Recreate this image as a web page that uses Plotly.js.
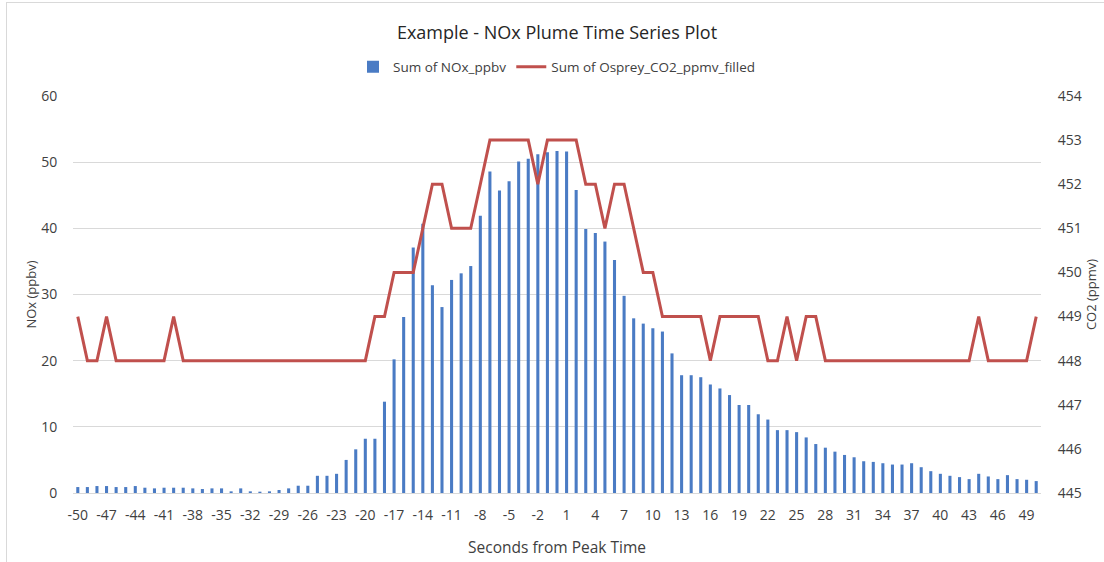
<!DOCTYPE html>
<html>
<head>
<meta charset="utf-8">
<script src="https://cdn.plot.ly/plotly-3.0.1.min.js"></script>
<style>
  html, body { margin: 0; padding: 0; background: #ffffff; }
  #wrap { position: relative; width: 1104px; height: 562px; overflow: hidden; }
  #frame { position: absolute; left: 6px; top: 2px; width: 1200px; height: 700px; border: 1px solid #d9d9d9; }
  #chart { position: absolute; left: 0; top: 0; width: 1104px; height: 562px; }
</style>
</head>
<body>
<div id="wrap"><div id="frame"></div><div id="chart"></div></div>
<script>
const seconds = [-50,-49,-48,-47,-46,-45,-44,-43,-42,-41,-40,-39,-38,-37,-36,-35,-34,-33,-32,-31,-30,-29,-28,-27,-26,-25,-24,-23,-22,-21,-20,-19,-18,-17,-16,-15,-14,-13,-12,-11,-10,-9,-8,-7,-6,-5,-4,-3,-2,-1,0,1,2,3,4,5,6,7,8,9,10,11,12,13,14,15,16,17,18,19,20,21,22,23,24,25,26,27,28,29,30,31,32,33,34,35,36,37,38,39,40,41,42,43,44,45,46,47,48,49,50];

const noxPpbv = [0.9,0.9,1.05,1.05,0.9,0.9,1.05,0.8,0.7,0.8,0.8,0.8,0.7,0.6,0.7,0.7,0.25,0.7,0.25,0.2,0.25,0.45,0.7,1.1,1.1,2.6,2.6,2.9,5.0,6.6,8.2,8.2,13.8,20.2,26.6,37.1,40.7,31.4,28.1,32.2,33.2,34.3,41.9,48.6,45.7,47.1,50.1,50.5,51.2,51.5,51.7,51.6,45.8,39.9,39.3,38.0,35.2,29.8,26.4,25.6,24.9,24.4,21.1,17.8,17.8,17.5,16.4,15.8,14.8,13.3,13.3,11.9,11.1,9.5,9.5,9.2,8.4,7.4,6.85,6.25,5.75,5.4,4.8,4.7,4.5,4.3,4.3,4.5,3.9,3.3,2.9,2.6,2.4,2.1,2.9,2.5,2.1,2.7,2.1,2.0,1.8];

const co2Ppmv = [449,448,448,449,448,448,448,448,448,448,449,448,448,448,448,448,448,448,448,448,448,448,448,448,448,448,448,448,448,448,448,449,449,450,450,450,451,452,452,451,451,451,452,453,453,453,453,453,452,453,453,453,453,452,452,451,452,452,451,450,450,449,449,449,449,449,448,449,449,449,449,449,448,448,449,448,449,449,448,448,448,448,448,448,448,448,448,448,448,448,448,448,448,448,449,448,448,448,448,448,449];

const xTickVals = [-50,-47,-44,-41,-38,-35,-32,-29,-26,-23,-20,-17,-14,-11,-8,-5,-2,1,4,7,10,13,16,19,22,25,28,31,34,37,40,43,46,49];

const titleText = 'Example - NOx Plume Time Series Plot';
const noxName = 'Sum of NOx_ppbv';
const co2Name = 'Sum of Osprey_CO2_ppmv_filled';

const FONT = '"Open Sans", "Noto Sans", sans-serif';
const TXT = '#404040';

const traces = [
  {
    type: 'bar', x: seconds, y: noxPpbv, name: noxName,
    marker: { color: '#4a7bc4' }, width: 0.32, yaxis: 'y'
  },
  {
    type: 'scatter', mode: 'lines', x: seconds, y: co2Ppmv, name: co2Name,
    line: { color: '#c0504d', width: 3 }, yaxis: 'y2'
  }
];

const layout = {
  width: 1104, height: 562,
  paper_bgcolor: 'rgba(0,0,0,0)', plot_bgcolor: 'rgba(0,0,0,0)',
  margin: { l: 73, r: 63, t: 96, b: 69 },
  font: { family: FONT, color: TXT, size: 12 },
  title: { text: titleText, x: 0.5, xref: 'paper', y: 0.941, yanchor: 'middle',
           font: { family: FONT, size: 18, color: '#262626' } },
  showlegend: true,
  legend: { orientation: 'h', x: 0.5, xanchor: 'center', y: 1.073, yanchor: 'middle',
            font: { size: 13.5, color: TXT }, itemwidth: 30, traceorder: 'normal' },
  xaxis: {
    range: [-50.5, 50.5], tickmode: 'array', tickvals: xTickVals,
    ticktext: xTickVals.map(String),
    ticks: 'outside', ticklen: 9, tickcolor: 'rgba(0,0,0,0)',
    tickfont: { size: 14, color: TXT },
    showgrid: false, zeroline: false,
    showline: true, linecolor: '#d9d9d9', linewidth: 1,
    title: { text: 'Seconds from Peak Time', standoff: 19, font: { size: 15.5, color: TXT } }
  },
  yaxis: {
    range: [0, 60], dtick: 10, tick0: 0,
    ticks: 'outside', ticklen: 12, tickcolor: 'rgba(0,0,0,0)',
    tickfont: { size: 14, color: TXT },
    showgrid: true, gridcolor: '#d9d9d9', gridwidth: 1, zeroline: false,
    title: { text: 'NOx (ppbv)', standoff: 1, font: { size: 13, color: TXT } }
  },
  yaxis2: {
    overlaying: 'y', side: 'right', range: [445, 454], dtick: 1, tick0: 445,
    ticks: 'outside', ticklen: 13, tickcolor: 'rgba(0,0,0,0)',
    tickfont: { size: 14, color: TXT },
    showgrid: false, zeroline: false,
    title: { text: 'CO2 (ppmv)', standoff: 5, font: { size: 13, color: TXT } }
  },
  bargap: 0.6
};

Plotly.newPlot('chart', traces, layout, { displayModeBar: false, staticPlot: true });
</script>
</body>
</html>
